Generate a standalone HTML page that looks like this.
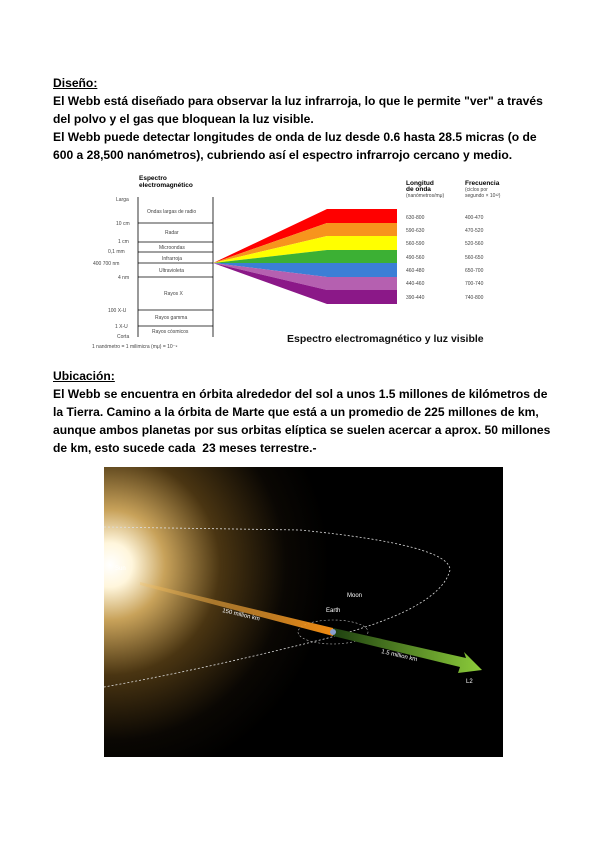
<!DOCTYPE html>
<html><head><meta charset="utf-8">
<style>
html,body{margin:0;padding:0;background:#fff}
body{width:596px;height:842px;position:relative;overflow:hidden;font-family:"Liberation Sans",sans-serif}
.t{position:absolute;left:53px;font-weight:bold;font-size:12.1px;line-height:18px;color:#000;white-space:nowrap}
.u{text-decoration:underline}
</style></head><body>
<div class="t u" style="top:74px">Diseño:</div>
<div class="t" style="top:92px">El Webb está diseñado para observar la luz infrarroja, lo que le permite "ver" a través<br>del polvo y el gas que bloquean la luz visible.<br>El Webb puede detectar longitudes de onda de luz desde 0.6 hasta 28.5 micras (o de<br>600 a 28,500 nanómetros), cubriendo así el espectro infrarrojo cercano y medio.</div>

<svg style="position:absolute;left:0;top:0" width="596" height="842">
<g font-family="Liberation Sans,sans-serif" font-size="5" fill="#444">
<text x="139" y="180" font-weight="bold" font-size="6.5" fill="#000">Espectro</text>
<text x="139" y="187" font-weight="bold" font-size="6.5" fill="#000">electromagnético</text>
<line x1="138" y1="197" x2="138" y2="337" stroke="#000" stroke-width="0.8"/>
<line x1="213" y1="197" x2="213" y2="337" stroke="#000" stroke-width="0.8"/>
<g stroke="#000" stroke-width="0.7">
<line x1="138" y1="223" x2="213" y2="223"/><line x1="138" y1="242" x2="213" y2="242"/>
<line x1="138" y1="252" x2="213" y2="252"/><line x1="138" y1="263" x2="213" y2="263"/>
<line x1="138" y1="277" x2="213" y2="277"/><line x1="138" y1="310" x2="213" y2="310"/>
<line x1="138" y1="326" x2="213" y2="326"/></g>
<text x="116" y="201">Larga</text><text x="116" y="225">10 cm</text><text x="118" y="243">1 cm</text>
<text x="108" y="253">0,1 mm</text><text x="93" y="265">400 700 nm</text><text x="118" y="279">4 nm</text>
<text x="108" y="312">100 X-U</text><text x="115" y="328">1 X-U</text><text x="117" y="338">Corta</text>
<text x="147" y="213">Ondas largas de radio</text><text x="165" y="234">Radar</text>
<text x="159" y="249">Microondas</text><text x="162" y="260">Infrarroja</text>
<text x="159" y="272">Ultravioleta</text><text x="164" y="295">Rayos X</text>
<text x="155" y="319">Rayos gamma</text><text x="152" y="333">Rayos cósmicos</text>
<text x="92" y="348">1 nanómetro = 1 milimicra (mμ) = 10⁻⁹</text>
<polygon points="213,263 327,209 397,209 397,223 327,223" fill="#f00"/>
<polygon points="213,263 327,223 397,223 397,236 327,236" fill="#f7941d"/>
<polygon points="213,263 327,236 397,236 397,250 327,250" fill="#ffff00"/>
<polygon points="213,263 327,250 397,250 397,263 327,263" fill="#3cb034"/>
<polygon points="213,263 327,263 397,263 397,277 327,277" fill="#3b7fd6"/>
<polygon points="213,263 327,277 397,277 397,290 327,290" fill="#b560b0"/>
<polygon points="213,263 327,290 397,290 397,304 327,304" fill="#8b1888"/>
<text x="406" y="185" font-weight="bold" font-size="6.5" fill="#000">Longitud</text>
<text x="406" y="191" font-weight="bold" font-size="6.5" fill="#000">de onda</text>
<text x="406" y="197">(nanómetros/mμ)</text>
<text x="465" y="185" font-weight="bold" font-size="6.5" fill="#000">Frecuencia</text>
<text x="465" y="191">(ciclos por</text><text x="465" y="197">segundo × 10¹²)</text>
<text x="406" y="219">630-800</text><text x="465" y="219">400-470</text>
<text x="406" y="232">590-630</text><text x="465" y="232">470-520</text>
<text x="406" y="245">560-590</text><text x="465" y="245">520-560</text>
<text x="406" y="259">490-560</text><text x="465" y="259">560-650</text>
<text x="406" y="272">460-480</text><text x="465" y="272">650-700</text>
<text x="406" y="285">440-460</text><text x="465" y="285">700-740</text>
<text x="406" y="299">390-440</text><text x="465" y="299">740-800</text>
<text x="287" y="342" font-weight="bold" font-size="10.5" fill="#111">Espectro electromagnético y luz visible</text>
</g>
</svg>

<div class="t u" style="top:367px">Ubicación:</div>
<div class="t" style="top:385px">El Webb se encuentra en órbita alrededor del sol a unos 1.5 millones de kilómetros de<br>la Tierra. Camino a la órbita de Marte que está a un promedio de 225 millones de km,<br>aunque ambos planetas por sus orbitas elíptica se suelen acercar a aprox. 50 millones<br>de km, esto sucede cada&nbsp; 23 meses terrestre.-</div>

<svg style="position:absolute;left:104px;top:467px" width="399" height="290" viewBox="104 467 399 290">
<defs>
<radialGradient id="sun" cx="110" cy="565" r="220" gradientUnits="userSpaceOnUse">
<stop offset="0" stop-color="#fff"/><stop offset="0.1" stop-color="#fff6dc"/>
<stop offset="0.25" stop-color="#c8a25a"/><stop offset="0.5" stop-color="#4a3512"/><stop offset="0.8" stop-color="#0a0703"/><stop offset="1" stop-color="#000"/></radialGradient>
<linearGradient id="or" x1="0" x2="1"><stop offset="0" stop-color="#f5c060" stop-opacity="0.3"/><stop offset="1" stop-color="#f08a10"/></linearGradient>
<linearGradient id="gr" x1="0" x2="1"><stop offset="0" stop-color="#1e4010"/><stop offset="1" stop-color="#8ccc3a"/></linearGradient>
</defs>
<rect x="104" y="467" width="399" height="290" fill="#000"/>
<rect x="104" y="467" width="399" height="290" fill="url(#sun)"/>
<path d="M104,527 L300,530 Q450,545 450,570 Q440,610 320,640 Q200,670 104,687" fill="none" stroke="#ddd" stroke-width="0.8" stroke-dasharray="2,2"/>
<ellipse cx="333" cy="632" rx="35" ry="12" fill="none" stroke="#bbb" stroke-width="0.6" stroke-dasharray="2,2"/>
<polygon points="140,582 333,628 333,636 140,585" fill="url(#or)"/>
<polygon points="333,628 466,658 464,652 482,670 458,673 460,667 333,636" fill="url(#gr)"/>
<circle cx="333" cy="632" r="3" fill="#8aa0d0"/>
<g font-family="Liberation Sans,sans-serif" font-size="6" fill="#fff">
<text x="115" y="570">Sun</text><text x="347" y="597">Moon</text><text x="326" y="612">Earth</text>
<text x="222" y="612" transform="rotate(13 222 612)">150 million km</text>
<text x="381" y="653" transform="rotate(13 381 653)">1.5 million km</text>
<text x="466" y="683">L2</text></g>
</svg>
</body></html>
